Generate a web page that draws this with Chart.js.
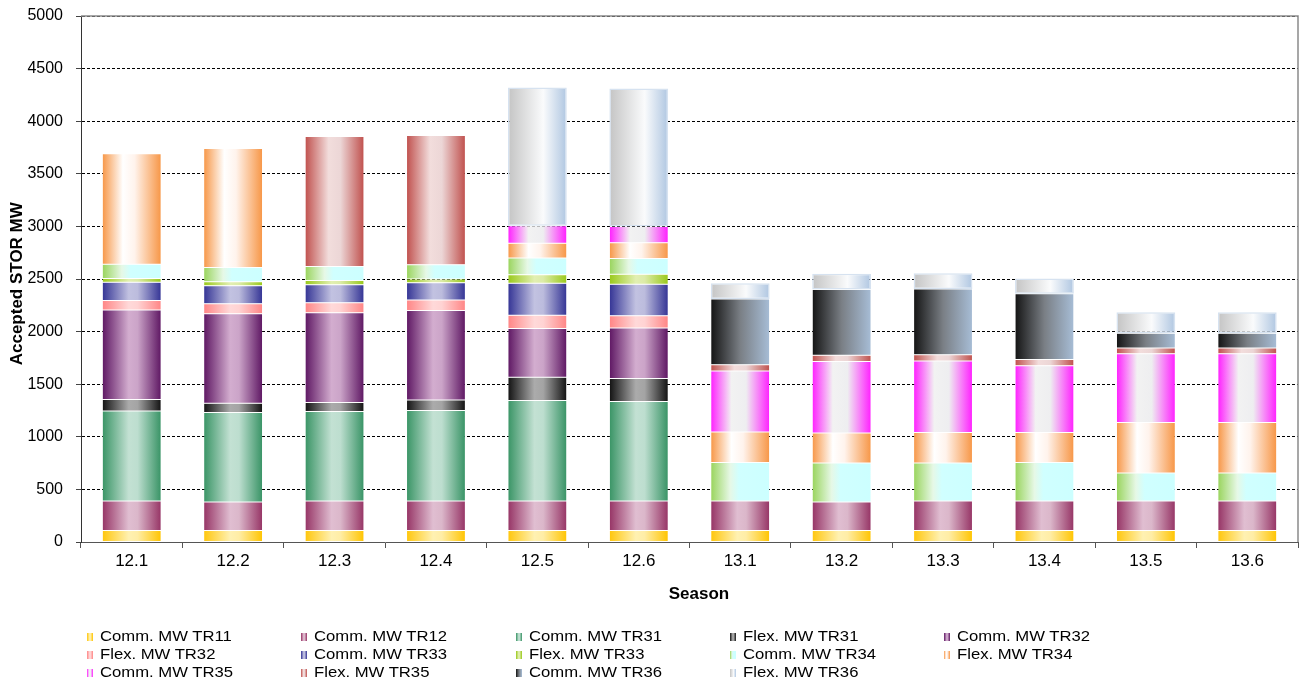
<!DOCTYPE html>
<html>
<head>
<meta charset="utf-8">
<script src="https://cdn.jsdelivr.net/npm/chart.js@4/dist/chart.umd.min.js"></script>
<style>
  html, body { margin: 0; padding: 0; background: #fff; }
  #wrap { position: relative; width: 1304px; height: 684px; overflow: hidden; }
  #wrap canvas { position: absolute; left: 0; top: 0; }
  #legend { position: absolute; left: 0; top: 0; width: 1304px; height: 684px; pointer-events: none; }
  .item { position: absolute; height: 16px; white-space: nowrap; }
  .swatch { position: absolute; left: 0; top: 5px; width: 6px; height: 8px; }
  .label { position: absolute; left: 13px; top: 0; font: 14px "Liberation Sans", Arial, sans-serif; color: #000;
           transform: scaleX(1.19); transform-origin: left center; line-height: 16px; }
</style>
</head>
<body>
<div id="wrap">
  <canvas id="chart" width="1304" height="684"></canvas>
  <div id="legend"></div>
</div>
<script>
// Seasons on the x axis
const seasons = ['12.1', '12.2', '12.3', '12.4', '12.5', '12.6', '13.1', '13.2', '13.3', '13.4', '13.5', '13.6'];

// Accepted MW per tender round, stacked bottom to top
const commTR11 = [110, 110, 110, 110, 110, 110, 110, 110, 110, 110, 110, 110];
const commTR12 = [280, 270, 280, 280, 280, 280, 280, 270, 280, 280, 280, 280];
const commTR31 = [855, 850, 850, 860, 955, 945, null, null, null, null, null, null];
const flexTR31 = [110, 90, 85, 100, 220, 220, null, null, null, null, null, null];
const commTR32 = [850, 850, 855, 850, 465, 480, null, null, null, null, null, null];
const flexTR32 = [90, 95, 95, 100, 125, 115, null, null, null, null, null, null];
const commTR33 = [175, 170, 170, 165, 305, 300, null, null, null, null, null, null];
const flexTR33 = [35, 40, 40, 35, 80, 95, null, null, null, null, null, null];
const commTR34 = [135, 135, 135, 135, 160, 150, 365, 370, 360, 365, 265, 265];
const flexTR34 = [1050, 1130, null, null, 140, 150, 290, 285, 290, 285, 480, 480];
const commTR35 = [null, null, null, null, 165, 155, 580, 680, 680, 635, 655, 655];
const flexTR35 = [null, null, 1235, 1230, null, null, 60, 60, 60, 60, 55, 55];
const commTR36 = [null, null, null, null, null, null, 625, 625, 625, 625, 140, 140];
const flexTR36 = [null, null, null, null, 1315, 1310, 150, 150, 150, 145, 200, 200];

// Y axis range
const yMin = 0, yMax = 5000, yStep = 500;

// Series: name, values and the left-to-right shading of each bar
const series = [
  ['Comm. MW TR11', commTR11, [[0, '#FFC60C'], [0.45, '#FFF1B2'], [0.6, '#FFEDA6'], [1, '#FFC400']]],
  ['Comm. MW TR12', commTR12, [[0, '#963465'], [0.45, '#E0BED1'], [0.6, '#DBB7CA'], [1, '#963465']]],
  ['Comm. MW TR31', commTR31, [[0, '#399465'], [0.45, '#C3E1D3'], [0.6, '#BDDECF'], [1, '#389365']]],
  ['Flex. MW TR31', flexTR31, [[0, '#121212'], [0.45, '#ABABAB'], [0.6, '#A4A4A4'], [1, '#121212']]],
  ['Comm. MW TR32', commTR32, [[0, '#5E1763'], [0.45, '#D3ADCF'], [0.6, '#CBA4C8'], [1, '#5E1763']]],
  ['Flex. MW TR32', flexTR32, [[0, '#FF8585'], [0.45, '#FFD9D9'], [0.6, '#FFD3D3'], [1, '#FF8585']]],
  ['Comm. MW TR33', commTR33, [[0, '#343495'], [0.45, '#C2C2E1'], [0.6, '#BCBCDD'], [1, '#343495']]],
  ['Flex. MW TR33', flexTR33, [[0, '#99C91A'], [0.45, '#E2EFB2'], [0.6, '#DCEBA8'], [1, '#99C91A']]],
  ['Comm. MW TR34', commTR34, [[0, '#99D45C'], [0.33, '#E6F8E6'], [0.48, '#D0FFFF'], [1, '#CCFFFF']]],
  ['Flex. MW TR34', flexTR34, [[0, '#F79646'], [0.35, '#FFFFFF'], [0.55, '#FFF3EC'], [1, '#F79646']]],
  ['Comm. MW TR35', commTR35, [[0, '#FF1FFF'], [0.35, '#F2F2F2'], [0.6, '#EEEEF0'], [1, '#FF1FFF']]],
  ['Flex. MW TR35', flexTR35, [[0, '#C0504D'], [0.4, '#F2DDDC'], [0.6, '#ECD6D6'], [1, '#C0504D']]],
  ['Comm. MW TR36', commTR36, [[0, '#141414'], [0.5, '#7A7F85'], [1, '#A7BDD6']]],
  ['Flex. MW TR36', flexTR36, [[0, '#C4C4C4'], [0.6, '#FAFBFC'], [1, '#AFC6E1']]]
];

const BAR_PCT = 0.58;

// Horizontal gradient across the bar at a given category
function barShade(stops) {
  return (c) => {
    const chart = c.chart;
    const xs = chart.scales && chart.scales.x;
    if (c.type !== 'data' || !xs || !chart.chartArea) return stops[0][1];
    const cx = xs.getPixelForValue(c.dataIndex);
    const w = (xs.width / seasons.length) * BAR_PCT;
    const g = chart.ctx.createLinearGradient(cx - w / 2, 0, cx + w / 2, 0);
    stops.forEach(([p, col]) => g.addColorStop(p, col));
    return g;
  };
}

const datasets = series.map(([name, values, stops]) => ({
  label: name,
  data: values,
  backgroundColor: barShade(stops),
  borderColor: name === 'Flex. MW TR36' ? '#D6E2F0' : 'rgba(255,255,255,0.25)',
  borderWidth: name === 'Flex. MW TR36' ? 1.5 : 0.5,
  borderSkipped: false,
  barPercentage: BAR_PCT,
  categoryPercentage: 1
}));

// Grey frame on the top and right of the plot area
const frame = {
  id: 'frame',
  afterDraw(chart) {
    const { ctx, chartArea: a } = chart;
    ctx.save();
    ctx.strokeStyle = '#8A8A8A';
    ctx.lineWidth = 1.5;
    ctx.beginPath();
    ctx.moveTo(a.left, a.top);
    ctx.lineTo(a.right, a.top);
    ctx.lineTo(a.right, a.bottom);
    ctx.stroke();
    ctx.restore();
  }
};

const chart = new Chart(document.getElementById('chart'), {
  type: 'bar',
  data: { labels: seasons, datasets },
  plugins: [frame],
  options: {
    responsive: false,
    animation: false,
    layout: { padding: { left: 0, top: 16, right: 6, bottom: 79 } },
    plugins: { legend: { display: false }, tooltip: { enabled: false } },
    scales: {
      x: {
        stacked: true,
        afterFit: (s) => { s.height = 63; },
        grid: { drawOnChartArea: false, drawTicks: true, tickLength: 6, color: '#555', offset: true },
        border: { display: true, color: '#555', width: 1 },
        ticks: { color: '#000', padding: 3, font: { family: '"Liberation Sans", Arial, sans-serif', size: 17 } },
        title: { display: true, text: '    Season', color: '#000', padding: { top: 0, bottom: 0 },
                 font: { family: '"Liberation Sans", Arial, sans-serif', size: 17, weight: 'bold' } }
      },
      y: {
        stacked: true,
        min: yMin, max: yMax,
        afterFit: (s) => { s.width = 81; s.paddingTop = 4; s.paddingBottom = 0; },
        grid: { color: '#000', lineWidth: 1, drawTicks: true, tickLength: 5, tickColor: '#444' },
        border: { display: true, color: '#333', width: 1, dash: [3, 2] },
        ticks: { stepSize: yStep, color: '#000', padding: 13,
                 callback: (v) => String(v),
                 font: { family: '"Liberation Sans", Arial, sans-serif', size: 16 } },
        title: { display: true, text: 'Accepted STOR MW  ', color: '#000', padding: { top: 7, bottom: 0 },
                 font: { family: '"Liberation Sans", Arial, sans-serif', size: 17, weight: 'bold' } }
      }
    }
  }
});

// Legend in five columns under the axis
const legend = document.getElementById('legend');
series.forEach(([name, , stops], i) => {
  const col = i % 5, row = Math.floor(i / 5);
  const item = document.createElement('div');
  item.className = 'item';
  item.style.left = (87 + col * 214.3) + 'px';
  item.style.top = (628 + row * 18) + 'px';
  const sw = document.createElement('div');
  sw.className = 'swatch';
  sw.style.background = 'linear-gradient(to right, ' + stops.map(([p, c]) => c + ' ' + (p * 100) + '%').join(', ') + ')';
  const tx = document.createElement('span');
  tx.className = 'label';
  tx.textContent = name;
  item.appendChild(sw);
  item.appendChild(tx);
  legend.appendChild(item);
});
</script>
</body>
</html>
